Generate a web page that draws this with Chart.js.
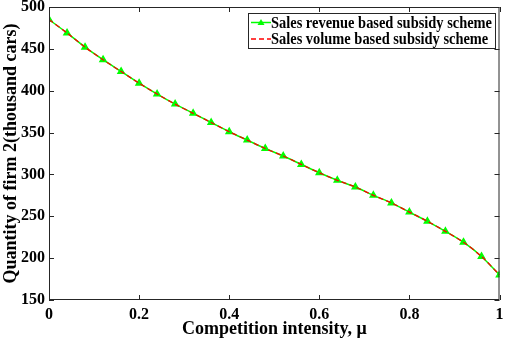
<!DOCTYPE html>
<html>
<head>
<meta charset="utf-8">
<script src="https://cdn.jsdelivr.net/npm/chart.js@4/dist/chart.umd.min.js"></script>
<style>
html,body{margin:0;padding:0;background:#fff;}
#wrap{width:505px;height:345px;position:relative;}
</style>
</head>
<body>
<div id="wrap"><canvas id="c" width="505" height="345"></canvas></div>
<script>
const mu = [0,0.04,0.08,0.12,0.16,0.2,0.24,0.28,0.32,0.36,0.4,0.44,0.48,0.52,0.56,0.6,0.64,0.68,0.72,0.76,0.8,0.84,0.88,0.92,0.96,1.0];
const revenueScheme = [485,469,452,437,423,409,396,384,373,362,351,341,331,322,312,302,293,285,275,266,255,244,232,219,202,180];
const volumeScheme  = [485,469,452,437,423,409,396,384,373,362,351,341,331,322,312,302,293,285,275,266,255,244,232,219,202,180];
const xTicks = [0,0.2,0.4,0.6,0.8,1];
const yTicks = [150,200,250,300,350,400,450,500];
const seriesNames = ['Sales revenue based subsidy scheme','Sales volume based subsidy scheme'];
const xTitle = 'Competition intensity, \u03bc';
const yTitle = 'Quantity of firm 2(thousand cars)';

const FONT = '"Liberation Serif","Times New Roman",serif';

const framePlugin = {
  id:'frame',
  afterDraw(chart){
    const {ctx, chartArea:a, scales} = chart;
    ctx.save();
    ctx.strokeStyle = '#262626';
    ctx.lineWidth = 1;
    ctx.strokeRect(a.left+0.5, a.top+0.5, a.right-a.left-1, a.bottom-a.top-1);
    const L = 5;
    ctx.beginPath();
    xTicks.forEach(v=>{
      const x = Math.round(scales.x.getPixelForValue(v))+0.5;
      ctx.moveTo(x,a.bottom); ctx.lineTo(x,a.bottom-L);
      ctx.moveTo(x,a.top); ctx.lineTo(x,a.top+L);
    });
    yTicks.forEach(v=>{
      const y = Math.round(scales.y.getPixelForValue(v))+0.5;
      ctx.moveTo(a.left,y); ctx.lineTo(a.left+L,y);
      ctx.moveTo(a.right,y); ctx.lineTo(a.right-L,y);
    });
    ctx.stroke();
    // legend
    const bx = 248, by = 13, bw = 247, bh = 35;
    ctx.fillStyle = '#fff';
    ctx.fillRect(bx,by,bw,bh);
    ctx.strokeStyle = '#262626';
    ctx.strokeRect(bx+0.5,by+0.5,bw,bh);
    ctx.font = 'bold 16px '+FONT;
    ctx.textBaseline = 'middle';
    const rows = [by+9.5, by+26];
    const textX = 271, maxW = 221;
    chart.data.datasets.forEach((ds,i)=>{
      const y = rows[i];
      ctx.save();
      ctx.strokeStyle = ds.borderColor;
      ctx.lineWidth = 1.5;
      if (ds.borderDash) ctx.setLineDash(ds.borderDash);
      ctx.beginPath(); ctx.moveTo(bx+3,y); ctx.lineTo(bx+23,y); ctx.stroke();
      if (ds.pointRadius>0){
        ctx.fillStyle = ds.pointBackgroundColor;
        ctx.beginPath();
        const cx = bx+13, r=3.5;
        ctx.moveTo(cx,y-r); ctx.lineTo(cx+r,y+r*0.7); ctx.lineTo(cx-r,y+r*0.7); ctx.closePath(); ctx.fill();
      }
      ctx.restore();
      ctx.save();
      ctx.fillStyle='#000';
      const w = ctx.measureText(seriesNames[0]).width;
      const sc = maxW / w;
      ctx.translate(textX, y+1);
      ctx.scale(sc, 1);
      ctx.fillText(seriesNames[i], 0, 0);
      ctx.restore();
    });
    ctx.restore();
  }
};

new Chart(document.getElementById('c'), {
  type:'line',
  data:{
    datasets:[
      {label:seriesNames[0], data:mu.map((m,i)=>({x:m,y:revenueScheme[i]})), borderColor:'#00ff00', backgroundColor:'#00ff00',
       pointBackgroundColor:'#00ff00', pointBorderColor:'#00ff00', pointStyle:'triangle', pointRadius:3.5, borderWidth:1.5, tension:0.3, order:2},
      {label:seriesNames[1], data:mu.map((m,i)=>({x:m,y:volumeScheme[i]})), borderColor:'#ff0000', backgroundColor:'#ff0000',
       borderDash:[5,3], pointRadius:0, borderWidth:1.3, tension:0.3, order:1}
    ]
  },
  options:{
    responsive:false, animation:false,
    layout:{padding:{left:0,right:4,top:7,bottom:0}},
    plugins:{legend:{display:false}, tooltip:{enabled:false}},
    scales:{
      x:{type:'linear', min:0, max:1,
         afterBuildTicks(s){ s.ticks = xTicks.map(v=>({value:v})); },
         afterFit(s){ s.height = 45; s.paddingLeft = 0; s.paddingRight = 0; },
         grid:{display:false, tickLength:0}, border:{display:false},
         ticks:{color:'#000', padding:5, font:{family:FONT, weight:'bold', size:16}, maxRotation:0,
                callback:v=>String(v)},
         title:{display:true, text:xTitle, color:'#000', font:{family:FONT, weight:'bold', size:18}, padding:{top:0,bottom:5}}
      },
      y:{type:'linear', min:150, max:500,
         afterBuildTicks(s){ s.ticks = yTicks.map(v=>({value:v})); },
         afterFit(s){ s.width = 49; s.paddingTop = 0; s.paddingBottom = 0; },
         grid:{display:false, tickLength:0}, border:{display:false},
         ticks:{color:'#000', padding:4, font:{family:FONT, weight:'bold', size:16}},
         title:{display:true, text:yTitle, color:'#000', font:{family:FONT, weight:'bold', size:18}, padding:{top:1,bottom:0}}
      }
    }
  },
  plugins:[framePlugin]
});
</script>
</body>
</html>
